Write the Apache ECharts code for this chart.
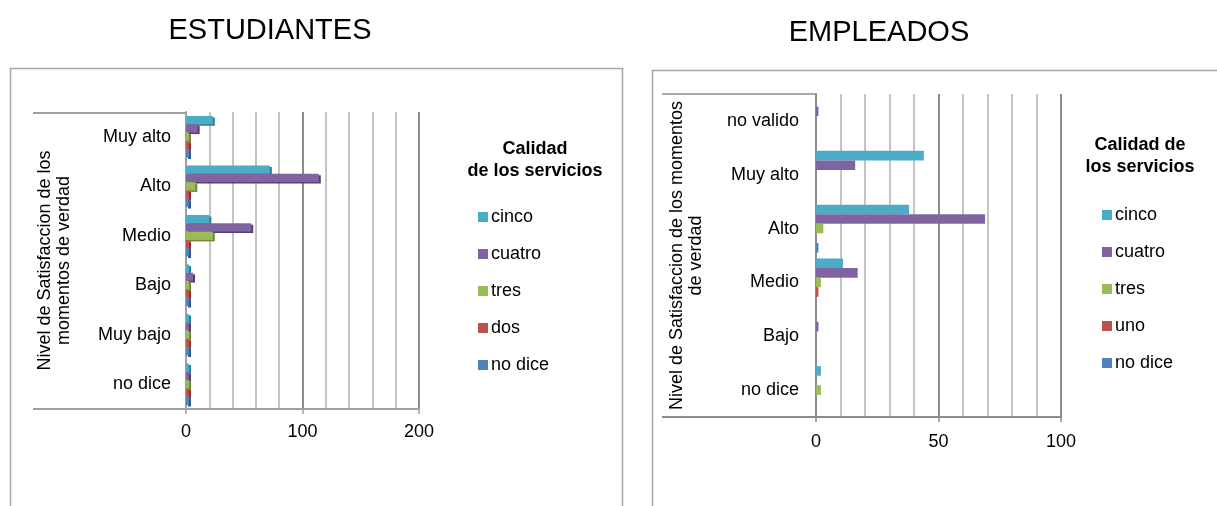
<!DOCTYPE html>
<html>
<head>
<meta charset="utf-8">
<script src="https://cdn.jsdelivr.net/npm/echarts@6/dist/echarts.min.js"></script>
<style>
  html, body { margin: 0; padding: 0; background: #ffffff; }
  #chart { width: 1217px; height: 506px; }
</style>
</head>
<body>
<div id="chart"></div>
<script>
// ---- ESTUDIANTES: satisfaction level (top to bottom) vs. service quality ----
const estCategories = ['Muy alto', 'Alto', 'Medio', 'Bajo', 'Muy bajo', 'no dice'];
const estCinco   = [23, 72, 20, 1, 0, 1];
const estCuatro  = [10, 114, 56, 6, 0, 0];
const estTres    = [1, 8, 23, 1, 0, 0];
const estDos     = [0, 2, 1, 0, 0, 0];
const estNoDice  = [0, 0, 2, 0, 0, 0];
const estAxisMax = 200;
const estGridStep = 20;
const estLabelStep = 100;

// ---- EMPLEADOS ----
const empCategories = ['no valido', 'Muy alto', 'Alto', 'Medio', 'Bajo', 'no dice'];
const empCinco   = [0, 44, 38, 11, 0, 2];
const empCuatro  = [1, 16, 69, 17, 1, 0];
const empTres    = [0, 0, 3, 2, 0, 2];
const empUno     = [0, 0, 0, 1, 0, 0];
const empNoDice  = [0, 0, 1, 0, 0, 0];
const empAxisMax = 100;
const empGridStep = 10;
const empLabelStep = 50;

const estLegend = ['cinco', 'cuatro', 'tres', 'dos', 'no dice'];
const empLegend = ['cinco', 'cuatro', 'tres', 'uno', 'no dice'];

const axisTitleEst = 'Nivel de Satisfaccion de los\nmomentos de verdad';
const axisTitleEmp = 'Nivel de Satisfaccion de los momentos\nde verdad';
const legendTitleEst = 'Calidad\nde los servicios';
const legendTitleEmp = 'Calidad de\nlos servicios';

const FONT = '"Liberation Sans", Arial, Helvetica, sans-serif';
const palette = {
  'cinco':   { face: '#4bacc6', side: '#2f7f95' },
  'cuatro':  { face: '#8064a2', side: '#56406f' },
  'tres':    { face: '#9bbb59', side: '#6f8a3a' },
  'dos':     { face: '#c0504d', side: '#8c3331' },
  'uno':     { face: '#c0504d', side: '#8c3331' },
  'no dice': { face: '#4f81bd', side: '#335a8a' }
};

// plot rectangles
const G1 = { left: 186, top: 112, width: 233, height: 297 };
const G2 = { left: 816, top: 94, width: 245, height: 323 };

const gridLineColors = ['#8c8c8c', '#c4c4c4', '#c4c4c4', '#c4c4c4', '#c4c4c4'];

function valueAxes(gridIndex, max, step, labelStep, margin, lineColor) {
  return [
    { // background grid lines every step
      type: 'value', gridIndex: gridIndex, position: 'bottom',
      min: 0, max: max, interval: step,
      axisLine: { show: false }, axisTick: { show: false }, axisLabel: { show: false },
      splitLine: { show: true, lineStyle: { color: gridLineColors, width: 2 } }
    },
    { // labelled ticks
      type: 'value', gridIndex: gridIndex, position: 'bottom',
      min: 0, max: max, interval: labelStep,
      axisLine: { show: true, onZero: false, lineStyle: { color: lineColor, width: 2 } },
      axisTick: { show: true, length: 5, lineStyle: { color: lineColor, width: 1.5 } },
      axisLabel: { show: true, margin: margin, color: '#000', fontSize: 18, fontFamily: FONT },
      splitLine: { show: false }
    }
  ];
}

function categoryAxis(gridIndex, cats, name, nameGap, labelMargin, lineColor) {
  return {
    type: 'category', gridIndex: gridIndex, data: cats, inverse: true,
    position: 'left',
    axisLine: { show: true, onZero: false, lineStyle: { color: lineColor, width: 2 } },
    axisTick: { show: false },
    axisLabel: { color: '#000', fontSize: 18, fontFamily: FONT, margin: labelMargin, interval: 0 },
    splitLine: { show: false },
    name: name, nameLocation: 'middle', nameRotate: 90, nameGap: nameGap,
    nameTextStyle: { color: '#000', fontSize: 18, fontFamily: FONT, lineHeight: 19, align: 'center' }
  };
}

function barSeries(name, data, xAxisIndex, yAxisIndex, depth) {
  const c = palette[name];
  const s = {
    name: name, type: 'bar', data: data,
    xAxisIndex: xAxisIndex, yAxisIndex: yAxisIndex,
    barGap: '0%',
    itemStyle: { color: c.face }
  };
  if (depth) {
    s.barCategoryGap = '16%';
    s.barMinHeight = 3;
    s.itemStyle.shadowColor = c.side;
    s.itemStyle.shadowOffsetX = 2;
    s.itemStyle.shadowOffsetY = 1.5;
    s.itemStyle.shadowBlur = 0;
  } else {
    s.barCategoryGap = '11%';
  }
  return s;
}

function legendBlock(data, left, top) {
  return {
    data: data, orient: 'vertical', left: left, top: top, padding: 0,
    icon: 'rect', itemWidth: 10, itemHeight: 10, itemGap: 19,
    textStyle: { color: '#000', fontSize: 18, fontFamily: FONT, padding: [0, 0, 0, -2] },
    selectedMode: false
  };
}

const frameColor = '#a6a6a6';
const graphics = [
  // panel frames
  { type: 'rect', silent: true, shape: { x: 10.5, y: 68.5, width: 612, height: 470 },
    style: { fill: null, stroke: frameColor, lineWidth: 1.5 } },
  { type: 'rect', silent: true, shape: { x: 652.5, y: 70.5, width: 600, height: 470 },
    style: { fill: null, stroke: frameColor, lineWidth: 1.5 } },
  // label-area borders left of each plot
  { type: 'line', silent: true, shape: { x1: 33, y1: G1.top + 1, x2: G1.left, y2: G1.top + 1 },
    style: { stroke: '#a0a0a0', lineWidth: 2 } },
  { type: 'line', silent: true, shape: { x1: 33, y1: G1.top + G1.height, x2: G1.left, y2: G1.top + G1.height },
    style: { stroke: '#a0a0a0', lineWidth: 2 } },
  { type: 'line', silent: true, shape: { x1: 662, y1: G2.top, x2: G2.left, y2: G2.top },
    style: { stroke: '#8c8c8c', lineWidth: 1.5 } },
  { type: 'line', silent: true, shape: { x1: 662, y1: G2.top + G2.height, x2: G2.left, y2: G2.top + G2.height },
    style: { stroke: '#8c8c8c', lineWidth: 2 } },
  // titles
  { type: 'text', silent: true, x: 270, y: 31,
    style: { text: 'ESTUDIANTES', font: '29px ' + FONT, fill: '#000', align: 'center', verticalAlign: 'middle' } },
  { type: 'text', silent: true, x: 879, y: 33,
    style: { text: 'EMPLEADOS', font: '29px ' + FONT, fill: '#000', align: 'center', verticalAlign: 'middle' } },
  // legend headings
  { type: 'text', silent: true, x: 535, y: 138,
    style: { text: legendTitleEst, font: 'bold 18px ' + FONT, lineHeight: 22, fill: '#000', align: 'center', verticalAlign: 'top' } },
  { type: 'text', silent: true, x: 1140, y: 134,
    style: { text: legendTitleEmp, font: 'bold 18px ' + FONT, lineHeight: 22, fill: '#000', align: 'center', verticalAlign: 'top' } }
];

const option = {
  animation: false,
  backgroundColor: '#ffffff',
  textStyle: { fontFamily: FONT },
  grid: [
    { left: G1.left, top: G1.top, width: G1.width, height: G1.height, containLabel: false },
    { left: G2.left, top: G2.top, width: G2.width, height: G2.height, containLabel: false }
  ],
  xAxis: [
    ...valueAxes(0, estAxisMax, estGridStep, estLabelStep, 14, '#a0a0a0'),
    ...valueAxes(1, empAxisMax, empGridStep, empLabelStep, 16, '#8c8c8c')
  ],
  yAxis: [
    categoryAxis(0, estCategories, axisTitleEst, 112, 15, '#a0a0a0'),
    categoryAxis(1, empCategories, axisTitleEmp, 110, 17, '#8c8c8c')
  ],
  legend: [
    legendBlock(estLegend, 478, 208),
    legendBlock(empLegend, 1102, 206)
  ],
  series: [
    barSeries('cinco', estCinco, 0, 0, true),
    barSeries('cuatro', estCuatro, 0, 0, true),
    barSeries('tres', estTres, 0, 0, true),
    barSeries('dos', estDos, 0, 0, true),
    barSeries('no dice', estNoDice, 0, 0, true),
    barSeries('cinco', empCinco, 2, 1, false),
    barSeries('cuatro', empCuatro, 2, 1, false),
    barSeries('tres', empTres, 2, 1, false),
    barSeries('uno', empUno, 2, 1, false),
    barSeries('no dice', empNoDice, 2, 1, false)
  ],
  graphic: graphics
};

const chart = echarts.init(document.getElementById('chart'), null, { renderer: 'canvas' });
chart.setOption(option);
</script>
</body>
</html>
